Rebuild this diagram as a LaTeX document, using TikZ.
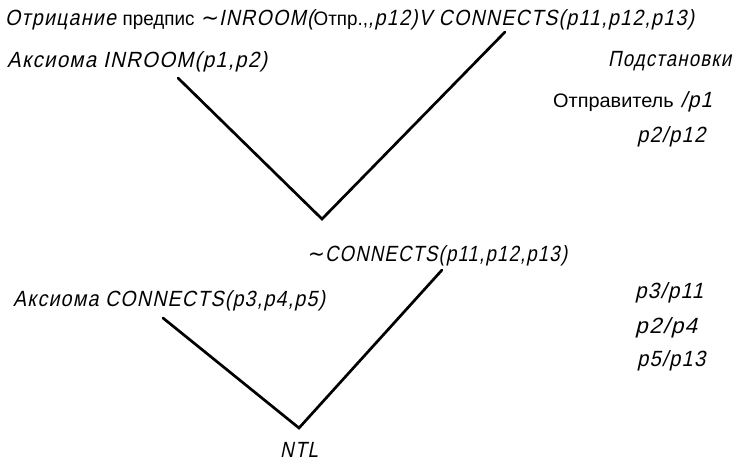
\documentclass[tikz,border=0pt]{standalone}
\usepackage{fontspec}
\usepackage{graphicx}
\setmainfont{Liberation Sans}
\newfontfamily\hand[FakeSlant=0.22,FakeStretch=0.92,LetterSpace=6]{Liberation Sans}
\newfontfamily\symf{DejaVu Sans}
\newcommand{\plaintxt}[1]{{\normalfont\fontsize{19.5}{22}\selectfont #1}}
\newcommand{\tnot}{{\symf\fontsize{22}{22}\selectfont ∼}}
\newcommand{\fw}[2]{\resizebox{#1}{\height}{#2}}
\begin{document}
\begin{tikzpicture}[x=1pt,y=-1pt,
  txt/.style={inner sep=0pt,anchor=base west,font=\hand\fontsize{22}{24}\selectfont},
  arm/.style={line width=2.7pt,line cap=round}]
\useasboundingbox (0,0) rectangle (740,464);
\fill[white] (0,0) rectangle (740,464);
% texts
\node[txt] (neg1) at (5,25) {\fw{689pt}{Отрицание \plaintxt{предпис} \tnot INROOM(\plaintxt{Отпр.,},p12)V CONNECTS(p11,p12,p13)}};
\node[txt] (ax1) at (7,67) {\fw{260pt}{Аксиома INROOM(p1,p2)}};
\node[txt] (sub) at (608,66) {\fw{123pt}{Подстановки}};
\node[txt] (s1) at (553,107) {\fw{159pt}{\plaintxt{Отправитель} /p1}};
\node[txt] (s2) at (637,142) {\fw{68pt}{p2/p12}};
\node[txt] (neg2) at (308,261) {\fw{259pt}{\tnot CONNECTS(p11,p12,p13)}};
\node[txt] (ax2) at (13,306) {\fw{312pt}{Аксиома CONNECTS(p3,p4,p5)}};
\node[txt] (s3) at (635,298) {\fw{68pt}{p3/p11}};
\node[txt] (s4) at (635,333) {\fw{62pt}{p2/p4}};
\node[txt] (s5) at (637,366) {\fw{68pt}{p5/p13}};
\node[txt] (ntl) at (280,457) {\fw{38pt}{NTL}};
% connector points
\coordinate (a1) at (178,78);
\coordinate (b1) at (505,32);
\coordinate (v1) at (322,219);
\coordinate (a2) at (163,318);
\coordinate (b2) at (442,270);
\coordinate (v2) at (299,428);
\draw[arm] (a1) -- (v1) -- (b1);
\draw[arm] (a2) -- (v2) -- (b2);
\end{tikzpicture}
\end{document}
